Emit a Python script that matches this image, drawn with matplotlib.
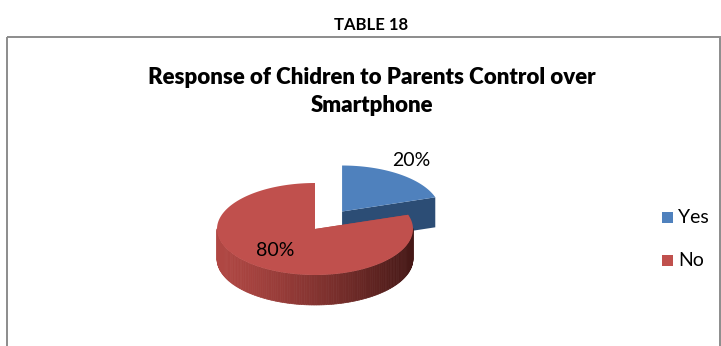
import numpy as np
import matplotlib.pyplot as plt
from matplotlib.patches import Polygon, Rectangle
from matplotlib.colors import to_rgb

labels = ['Yes', 'No']
values = [20, 80]
top_colors = ['#4F81BD', '#C0504D']
side_light = ['#2C4D75', '#B04743']
side_dark = ['#1F3654', '#451816']

plt.rcParams['font.family'] = ['Lato', 'DejaVu Sans']

fig = plt.figure(figsize=(7.21, 3.46), dpi=100)
ax = fig.add_axes([0, 0, 1, 1])
ax.set_xlim(0, 721)
ax.set_ylim(346, 0)
ax.axis('off')

ax.text(371, 25, 'TABLE 18', ha='center', va='center', fontsize=12, fontweight='bold')
ax.add_patch(Rectangle((7, 37), 713, 330, fill=False, ec='#8c8c8c', lw=1.4))
ax.text(372, 78, 'Response of Chidren to Parents Control over', ha='center', va='center',
        fontsize=16, fontweight='heavy')
ax.text(372, 106, 'Smartphone', ha='center', va='center', fontsize=16, fontweight='heavy')

# pseudo 3D pie
cx, cy, a, b, depth = 315, 229, 98, 46, 30
explode = [0.47, 0]


def pt(t, ox, oy, r=1.0, dz=0):
    return (ox + r * a * np.cos(t), oy - r * b * np.sin(t) + dz)


def mix(c1, c2, f):
    c1, c2 = np.array(to_rgb(c1)), np.array(to_rgb(c2))
    return tuple(c1 + (c2 - c1) * f)


total = sum(values)
start = 90.0
wedges = []
for v in values:
    sweep = 360.0 * v / total
    wedges.append((start - sweep, start))
    start -= sweep

# draw order: exploded (back) wedge first, then the large one
for i in [0, 1]:
    t1, t2 = np.radians(wedges[i][0]), np.radians(wedges[i][1])
    mid = (t1 + t2) / 2
    ox = cx + explode[i] * a * np.cos(mid)
    oy = cy - explode[i] * b * np.sin(mid)
    if t2 < t1:
        t2 += 2 * np.pi
    ts = np.linspace(t1, t2, 200)
    # radial side faces
    for t in [t1, t2]:
        p = pt(t, ox, oy)
        face = [(ox, oy), p, (p[0], p[1] + depth), (ox, oy + depth)]
        ax.add_patch(Polygon(face, closed=True, fc=side_light[i], ec='none'))
    # outer rim, front half, with shading
    for k in range(len(ts) - 1):
        s0, s1 = ts[k], ts[k + 1]
        if np.sin((s0 + s1) / 2) >= 0:
            continue
        xm = np.cos((s0 + s1) / 2)
        f = ((xm + 1) / 2) ** 1.3
        q0, q1 = pt(s0, ox, oy), pt(s1, ox, oy)
        quad = [q0, q1, (q1[0], q1[1] + depth), (q0[0], q0[1] + depth)]
        c = mix(side_light[i], side_dark[i], f)
        ax.add_patch(Polygon(quad, closed=True, fc=c, ec=c, lw=0.5))
    # top face
    top = [(ox, oy)] + [pt(t, ox, oy) for t in ts]
    ax.add_patch(Polygon(top, closed=True, fc=top_colors[i], ec='none'))

ax.text(411, 161, '20%', ha='center', va='center', fontsize=14)
ax.text(275, 250, '80%', ha='center', va='center', fontsize=14)

for i, lab in enumerate(labels):
    y = 217.5 + 43 * i
    ax.add_patch(Rectangle((662, y - 5.5), 11, 11, fc=top_colors[i], ec='none'))
    ax.text(678, y, lab, ha='left', va='center', fontsize=14)

fig.savefig('out.png', dpi=100)
